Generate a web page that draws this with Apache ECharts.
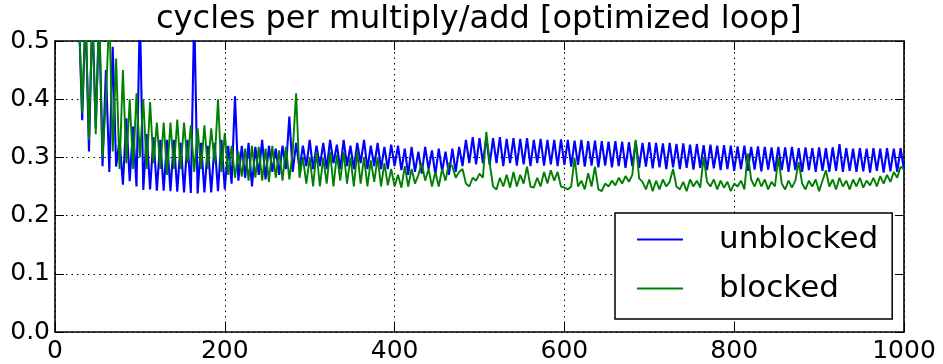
<!DOCTYPE html>
<html>
<head>
<meta charset="utf-8">
<script src="https://cdn.jsdelivr.net/npm/echarts@6/dist/echarts.min.js"></script>
<style>
  html, body { margin: 0; padding: 0; background: #fff; }
  #chart { width: 943px; height: 364px; }
</style>
</head>
<body>
<div id="chart"></div>
<script>
// matrix sizes sampled every 4 (28 .. 1000)
const sizes = [];
for (let n = 28; n <= 1000; n += 4) sizes.push(n);

// cycles per multiply/add (values above 0.5 are clipped)
const unblocked = [
  0.55, 0.364, 0.55, 0.31, 0.55, 0.35, 0.55, 0.285, 0.45, 0.275,
  0.49, 0.284, 0.33, 0.253, 0.367, 0.259, 0.353, 0.25, 0.55, 0.244,
  0.34, 0.245, 0.335, 0.243, 0.33, 0.243, 0.33, 0.242, 0.33, 0.241,
  0.325, 0.24, 0.33, 0.239, 0.55, 0.238, 0.325, 0.24, 0.32, 0.24,
  0.325, 0.242, 0.33, 0.245, 0.32, 0.255, 0.405, 0.26, 0.32, 0.265,
  0.325, 0.25, 0.318, 0.27, 0.33, 0.262, 0.32, 0.275, 0.315, 0.27,
  0.32, 0.28, 0.37, 0.275, 0.325, 0.28, 0.32, 0.285, 0.33, 0.28,
  0.32, 0.285, 0.325, 0.28, 0.33, 0.29, 0.322, 0.28, 0.33, 0.285,
  0.32, 0.28, 0.325, 0.29, 0.33, 0.28, 0.32, 0.285, 0.325, 0.28,
  0.318, 0.28, 0.322, 0.285, 0.32, 0.278, 0.315, 0.27, 0.318, 0.275,
  0.31, 0.272, 0.318, 0.28, 0.312, 0.27, 0.315, 0.276, 0.31, 0.27,
  0.315, 0.275, 0.318, 0.285, 0.33, 0.29, 0.335, 0.288, 0.333, 0.29,
  0.335, 0.287, 0.333, 0.29, 0.335, 0.285, 0.332, 0.29, 0.333, 0.286,
  0.332, 0.288, 0.333, 0.285, 0.33, 0.29, 0.332, 0.286, 0.33, 0.288,
  0.33, 0.285, 0.331, 0.287, 0.33, 0.284, 0.329, 0.287, 0.33, 0.284,
  0.328, 0.286, 0.329, 0.283, 0.328, 0.286, 0.327, 0.283, 0.328, 0.285,
  0.327, 0.282, 0.326, 0.285, 0.327, 0.282, 0.325, 0.284, 0.326, 0.281,
  0.325, 0.283, 0.324, 0.28, 0.325, 0.283, 0.323, 0.28, 0.324, 0.282,
  0.322, 0.279, 0.323, 0.282, 0.321, 0.278, 0.322, 0.281, 0.32, 0.278,
  0.321, 0.28, 0.32, 0.277, 0.319, 0.28, 0.32, 0.277, 0.318, 0.279,
  0.319, 0.276, 0.318, 0.279, 0.317, 0.276, 0.318, 0.278, 0.317, 0.275,
  0.318, 0.278, 0.316, 0.275, 0.317, 0.278, 0.316, 0.275, 0.317, 0.277,
  0.316, 0.275, 0.317, 0.277, 0.323, 0.275, 0.316, 0.277, 0.315, 0.275,
  0.316, 0.276, 0.315, 0.274, 0.316, 0.277, 0.315, 0.274, 0.316, 0.276,
  0.315, 0.275, 0.316, 0.278
];

const blocked = [
  0.55, 0.376, 0.55, 0.33, 0.55, 0.34, 0.55, 0.30, 0.40, 0.55,
  0.31, 0.47, 0.28, 0.45, 0.29, 0.40, 0.28, 0.41, 0.30, 0.40,
  0.28, 0.395, 0.29, 0.36, 0.28, 0.36, 0.27, 0.36, 0.28, 0.365,
  0.28, 0.36, 0.29, 0.355, 0.275, 0.35, 0.28, 0.355, 0.28, 0.35,
  0.29, 0.40, 0.275, 0.342, 0.27, 0.32, 0.265, 0.31, 0.267, 0.315,
  0.26, 0.32, 0.265, 0.318, 0.26, 0.315, 0.258, 0.32, 0.265, 0.312,
  0.26, 0.318, 0.262, 0.31, 0.41, 0.265, 0.30, 0.255, 0.30, 0.25,
  0.31, 0.25, 0.30, 0.255, 0.31, 0.25, 0.305, 0.26, 0.31, 0.255,
  0.30, 0.25, 0.31, 0.255, 0.30, 0.25, 0.295, 0.258, 0.30, 0.25,
  0.29, 0.252, 0.28, 0.25, 0.27, 0.248, 0.285, 0.25, 0.28, 0.255,
  0.27, 0.29, 0.26, 0.28, 0.25, 0.275, 0.25, 0.28, 0.26, 0.29,
  0.285, 0.265, 0.275, 0.28, 0.255, 0.25, 0.265, 0.26, 0.272, 0.265,
  0.344, 0.29, 0.25, 0.245, 0.265, 0.25, 0.27, 0.248, 0.275, 0.25,
  0.27, 0.255, 0.284, 0.25, 0.248, 0.265, 0.25, 0.275, 0.255, 0.278,
  0.26, 0.275, 0.25, 0.248, 0.245, 0.25, 0.299, 0.25, 0.26, 0.245,
  0.273, 0.25, 0.284, 0.245, 0.242, 0.255, 0.25, 0.26, 0.252, 0.265,
  0.255, 0.268, 0.258, 0.27, 0.33, 0.264, 0.258, 0.245, 0.262, 0.242,
  0.26, 0.245, 0.262, 0.25, 0.258, 0.28, 0.25, 0.245, 0.258, 0.242,
  0.262, 0.25, 0.26, 0.248, 0.301, 0.258, 0.25, 0.262, 0.245, 0.26,
  0.248, 0.258, 0.242, 0.255, 0.25, 0.26, 0.245, 0.307, 0.262, 0.25,
  0.265, 0.25, 0.262, 0.245, 0.258, 0.25, 0.30, 0.255, 0.245, 0.26,
  0.248, 0.26, 0.292, 0.255, 0.245, 0.26, 0.25, 0.262, 0.242, 0.26,
  0.278, 0.25, 0.262, 0.245, 0.265, 0.25, 0.26, 0.245, 0.262, 0.25,
  0.265, 0.248, 0.26, 0.252, 0.265, 0.25, 0.268, 0.255, 0.27, 0.258,
  0.275, 0.265, 0.284, 0.28
];

const xTicks = [0, 200, 400, 600, 800, 1000];
const yTicks = [0.0, 0.1, 0.2, 0.3, 0.4, 0.5];

const FONT = "DejaVu Sans";
const chart = echarts.init(document.getElementById("chart"));

const pairs = (ys) => ys.map((y, i) => [sizes[i], y]);

const frameAxis = {
  axisLine: { show: true, onZero: false, lineStyle: { color: "#000", width: 1.6 } },
  axisTick: { show: true, inside: true, length: 9, lineStyle: { color: "#000", width: 1 } },
};

chart.setOption({
  animation: false,
  backgroundColor: "#fff",
  title: {
    text: "cycles per multiply/add [optimized loop]",
    left: 151,
    top: -1,
    textStyle: { fontFamily: FONT, fontSize: 32, fontWeight: "normal", color: "#000" },
  },
  grid: { left: 55, right: 39, top: 41, bottom: 31 },
  legend: {
    orient: "vertical",
    left: 615,
    top: 213,
    padding: [11, 14, 15, 22],
    itemGap: 18,
    itemWidth: 46,
    itemHeight: 2,
    icon: "rect",
    borderColor: "#000",
    borderWidth: 1.5,
    backgroundColor: "#fff",
    textStyle: { fontFamily: FONT, fontSize: 31, color: "#000", padding: [0, 0, 0, 31] },
    data: ["unblocked", "blocked"],
  },
  xAxis: [
    {
      type: "value",
      min: 0,
      max: 1000,
      interval: 200,
      ...frameAxis,
      axisLabel: {
        fontFamily: FONT, fontSize: 25, color: "#000", margin: 7,
        customValues: xTicks,
        formatter: (v) => String(v),
      },
      splitLine: { show: true, lineStyle: { color: "#000", type: [1.5, 4], width: 1 } },
    },
    {
      type: "value",
      position: "top",
      min: 0,
      max: 1000,
      interval: 200,
      ...frameAxis,
      axisLabel: { show: false },
      splitLine: { show: false },
    },
  ],
  yAxis: [
    {
      type: "value",
      min: 0,
      max: 0.5,
      interval: 0.1,
      ...frameAxis,
      axisLabel: {
        fontFamily: FONT, fontSize: 25, color: "#000", margin: 5,
        customValues: yTicks,
        formatter: (v) => v.toFixed(1),
      },
      splitLine: { show: true, lineStyle: { color: "#000", type: [1.5, 4], width: 1 } },
    },
    {
      type: "value",
      position: "right",
      min: 0,
      max: 0.5,
      interval: 0.1,
      ...frameAxis,
      axisLabel: { show: false },
      splitLine: { show: false },
    },
  ],
  series: [
    {
      name: "unblocked",
      type: "line",
      data: pairs(unblocked),
      showSymbol: false,
      clip: true,
      color: "#0000ff",
      lineStyle: { color: "#0000ff", width: 2.1 },
    },
    {
      name: "blocked",
      type: "line",
      data: pairs(blocked),
      showSymbol: false,
      clip: true,
      color: "#008000",
      lineStyle: { color: "#008000", width: 1.9 },
    },
  ],
});
</script>
</body>
</html>
